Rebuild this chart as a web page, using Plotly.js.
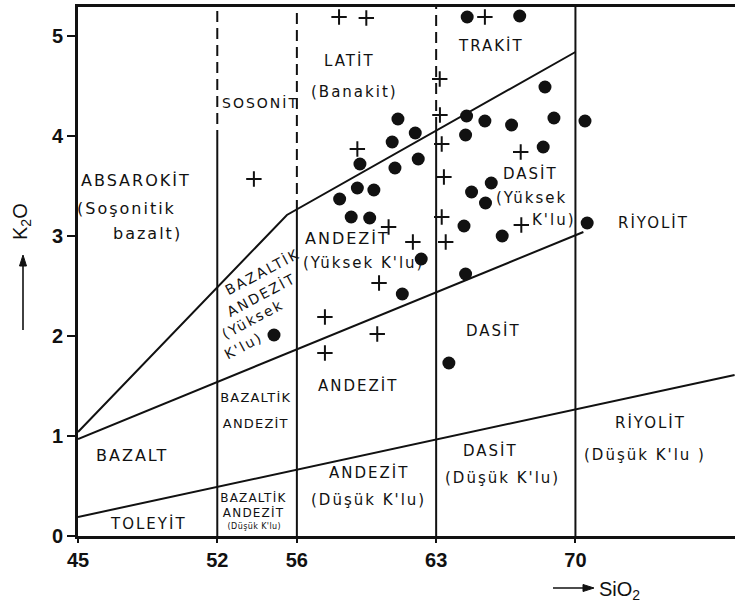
<!DOCTYPE html>
<html>
<head>
<meta charset="utf-8">
<script src="https://cdn.plot.ly/plotly-3.0.1.min.js"></script>
<style>html,body{margin:0;padding:0;background:#fff}#chart{width:735px;height:612px}</style>
</head>
<body>
<div id="chart"></div>
<script>
// ---- data ----
const circleSiO2 = [64.56, 67.20, 64.53, 65.45, 64.48, 61.08, 61.95, 60.79, 59.17, 60.93, 62.10, 64.78, 65.77, 59.04, 59.87, 58.15,
                    68.47, 66.79, 68.92, 68.38, 70.48, 65.48, 66.32, 70.59, 58.73, 59.66, 62.25, 61.30, 54.85, 64.40, 64.48, 63.64];
const circleK2O  = [5.19, 5.20, 4.20, 4.15, 4.01, 4.17, 4.03, 3.94, 3.72, 3.68, 3.77, 3.44, 3.53, 3.48, 3.46, 3.37,
                    4.49, 4.11, 4.18, 3.89, 4.15, 3.33, 3.00, 3.13, 3.19, 3.18, 2.77, 2.42, 2.01, 3.10, 2.62, 1.73];
const crossSiO2 = [58.12, 59.49, 65.45, 63.18, 63.19, 63.28, 59.04, 63.39, 53.84, 67.28, 67.25, 60.61, 61.83, 60.13, 57.41, 60.04, 57.41, 63.28, 63.48];
const crossK2O  = [5.19, 5.18, 5.19, 4.57, 4.21, 3.92, 3.87, 3.59, 3.57, 3.11, 3.84, 3.09, 2.94, 2.53, 2.19, 2.02, 1.83, 3.19, 2.94];

// field boundaries
const shoshoniticLineSiO2 = [45, 55.5, 70];
const shoshoniticLineK2O  = [1.04, 3.21, 4.84];
const highKLineSiO2 = [45, 70.4];
const highKLineK2O  = [0.97, 3.04];
const lowKLineSiO2 = [45, 78];
const lowKLineK2O  = [0.19, 1.61];
const dividerSiO2   = [52, 56, 63, 70];
const dividerDashTo = [3.95, 3.25, 4.08, null]; // dashed above this K2O value
const yTop = 5.29;

const xTickVals = [45, 52, 56, 63, 70];
const yTickVals = [0, 1, 2, 3, 4, 5];

// field labels: [text, SiO2, K2O, size, angle]
const fieldLabels = [
  ["ABSAROKİT", 47.91, 3.56, 16, 0],
  ["(Soşonitik", 47.46, 3.28, 16, 0],
  ["bazalt)", 48.47, 3.03, 16, 0],
  ["SOSONİT", 54.15, 4.34, 14, 0],
  ["LATİT", 58.62, 4.76, 15, 0],
  ["(Banakit)", 58.92, 4.44, 15, 0],
  ["TRAKİT", 65.75, 4.91, 15, 0],
  ["DASİT", 67.76, 3.63, 15, 0],
  ["(Yüksek", 67.80, 3.38, 15, 0],
  ["K'lu)", 68.92, 3.16, 15, 0],
  ["RİYOLİT", 73.94, 3.14, 15, 0],
  ["ANDEZİT", 58.52, 2.98, 16, 0],
  ["(Yüksek K'lu)", 59.37, 2.73, 15, 0],
  ["BAZALTİK", 54.25, 2.65, 14, -28],
  ["ANDEZİT", 54.20, 2.42, 14, -28],
  ["(Yüksek", 53.80, 2.17, 14, -28],
  ["K'lu)", 53.30, 1.90, 14, -28],
  ["DASİT", 65.90, 2.06, 15, 0],
  ["ANDEZİT", 59.12, 1.51, 15, 0],
  ["BAZALTİK", 53.95, 1.39, 13, 0],
  ["ANDEZİT", 53.95, 1.13, 13, 0],
  ["BAZALT", 47.76, 0.81, 16, 0],
  ["TOLEYİT", 48.52, 0.13, 15, 0],
  ["BAZALTİK", 53.85, 0.39, 12, 0],
  ["ANDEZİT", 53.85, 0.24, 12, 0],
  ["(Düşük K'lu)", 53.89, 0.10, 8, 0],
  ["ANDEZİT", 59.67, 0.64, 15, 0],
  ["(Düşük K'lu)", 59.62, 0.36, 15, 0],
  ["DASİT", 65.75, 0.86, 15, 0],
  ["(Düşük K'lu)", 66.31, 0.58, 15, 0],
  ["RİYOLİT", 73.79, 1.14, 15, 0],
  ["(Düşük K'lu )", 73.49, 0.81, 15, 0]
];

// ---- traces ----
const black = "#111";
const traces = [];
function lineTrace(x, y, dash) {
  return {x: x, y: y, mode: "lines", type: "scatter", hoverinfo: "skip",
          line: {color: black, width: 2, dash: dash || "solid"}, cliponaxis: true};
}
traces.push(lineTrace(shoshoniticLineSiO2, shoshoniticLineK2O));
traces.push(lineTrace(highKLineSiO2, highKLineK2O));
traces.push(lineTrace(lowKLineSiO2, lowKLineK2O));
dividerSiO2.forEach((sx, i) => {
  const d = dividerDashTo[i];
  if (d === null) {
    traces.push(lineTrace([sx, sx], [0, yTop]));
  } else {
    traces.push(lineTrace([sx, sx], [0, d]));
    traces.push(lineTrace([sx, sx], [d, yTop], "11px,6px"));
  }
});
traces.push({x: circleSiO2, y: circleK2O, mode: "markers", type: "scatter", cliponaxis: false,
             marker: {symbol: "circle", size: 13, color: black}});
traces.push({x: crossSiO2, y: crossK2O, mode: "markers", type: "scatter", cliponaxis: false,
             marker: {symbol: "cross-thin", size: 11, color: black, line: {color: black, width: 2}}});

const labelFont = "DejaVu Sans, Liberation Sans, sans-serif";
const annotations = fieldLabels.map(l => ({
  text: l[0], x: l[1], y: l[2], xref: "x", yref: "y", showarrow: false,
  xanchor: "center", yanchor: "middle",
  textangle: l[4], font: {family: labelFont, size: l[3], color: black}
}));
// pixel -> paper helpers for decorations outside the plot
const px = v => (v - 78) / 657;
const py = v => (536 - v) / 529;
annotations.push({text: "K<sub>2</sub>O", xref: "paper", yref: "paper", x: px(21), y: py(222),
  xanchor: "center", yanchor: "middle",
  showarrow: false, textangle: -90, font: {family: "Liberation Sans, sans-serif", size: 20, color: black}});
annotations.push({text: "SiO<sub>2</sub>", xref: "paper", yref: "paper", x: px(597), y: py(590),
  xanchor: "left", yanchor: "middle",
  showarrow: false, font: {family: "Liberation Sans, sans-serif", size: 20, color: black}});

const shapes = [
  // y arrow
  {type: "line", xref: "paper", yref: "paper", x0: px(23), x1: px(23), y0: py(330), y1: py(262),
   line: {color: black, width: 1.6}},
  {type: "path", xref: "paper", yref: "paper", fillcolor: black, line: {color: black, width: 1},
   path: `M ${px(23)},${py(255)} L ${px(19.5)},${py(266)} L ${px(26.5)},${py(266)} Z`},
  // x arrow
  {type: "line", xref: "paper", yref: "paper", x0: px(553), x1: px(587), y0: py(588), y1: py(588),
   line: {color: black, width: 1.6}},
  {type: "path", xref: "paper", yref: "paper", fillcolor: black, line: {color: black, width: 1},
   path: `M ${px(594)},${py(588)} L ${px(583)},${py(584.5)} L ${px(583)},${py(591.5)} Z`}
];

const tickFont = {family: "Liberation Sans, sans-serif", size: 20, color: black, weight: "bold"};
const layout = {
  width: 735, height: 612,
  margin: {l: 78, r: 0, t: 7, b: 76},
  paper_bgcolor: "#fff", plot_bgcolor: "#fff",
  showlegend: false,
  xaxis: {range: [45, 78.02], tickvals: xTickVals, ticktext: xTickVals.map(String),
          showgrid: false, zeroline: false, showline: true, mirror: true, linewidth: 3, linecolor: black,
          ticks: "outside", ticklen: 4, tickwidth: 2, tickcolor: black, tickfont: tickFont},
  yaxis: {range: [0, yTop], tickvals: yTickVals, ticktext: yTickVals.map(String),
          showgrid: false, zeroline: false, showline: true, linewidth: 3, linecolor: black,
          ticks: "outside", ticklen: 8, tickwidth: 2, tickcolor: black, tickfont: tickFont},
  annotations: annotations,
  shapes: shapes
};
Plotly.newPlot("chart", traces, layout, {staticPlot: true}).then(gd => {
  // lettering in the original is widely spaced
  const texts = gd.querySelectorAll(".annotation .annotation-text");
  texts.forEach((t, i) => {
    if (i < fieldLabels.length) {
      const sz = fieldLabels[i][3];
      t.style.letterSpacing = (sz < 10 ? 0.4 : (sz < 14 ? 1.2 : 2)) + "px";
    }
  });
});
</script>
</body>
</html>
